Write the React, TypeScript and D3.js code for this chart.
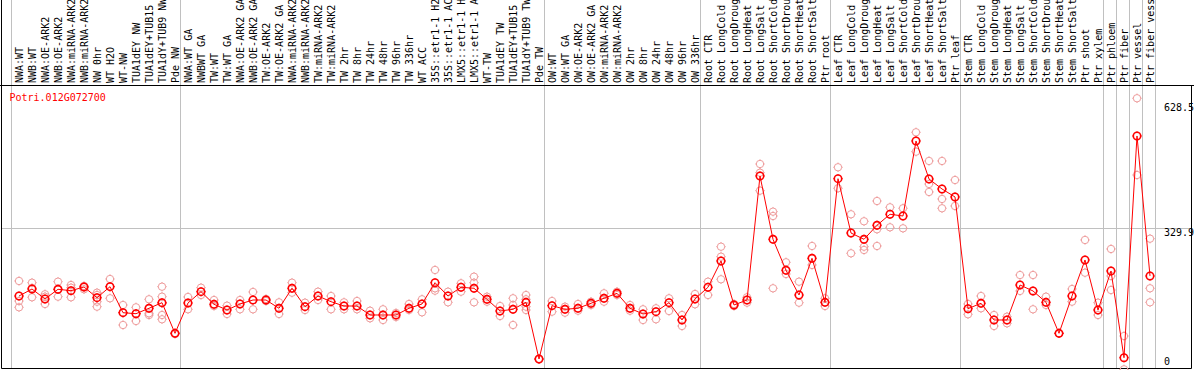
import React from "react";
import * as d3 from "d3";

const title = "Potri.012G072700";

const categories = [
  "NWA:WT", "NWB:WT", "NWA:OE-ARK2", "NWB:OE-ARK2", "NWA:miRNA-ARK2", "NWB:miRNA-ARK2", "NW 0hr", "WT H2O", "WT-NW", "TUA1dEY NW", "TUA1dEY+TUB15 NW", "TUA1dY+TUB9 NW", "Pde NW",
  "NWA:WT GA", "NWBWT GA", "TW:WT", "TW:WT GA", "NWA:OE-ARK2 GA", "NWB:OE-ARK2 GA", "TW:OE-ARK2", "TW:OE-ARK2 GA", "NWA:miRNA-ARK2", "NWB:miRNA-ARK2", "TW:miRNA-ARK2", "TW:miRNA-ARK2", "TW 2hr", "TW 8hr", "TW 24hr", "TW 48hr", "TW 96hr", "TW 336hr", "WT ACC", "35S::etr1-1 H2O", "35S::etr1-1 ACC", "LMX5::etr1-1 H2O", "LMX5::etr1-1 ACC", "WT-TW", "TUA1dEY TW", "TUA1dEY+TUB15 TW", "TUA1dY+TUB9 TW", "Pde TW",
  "OW:WT", "OW:WT GA", "OW:OE-ARK2", "OW:OE-ARK2 GA", "OW:miRNA-ARK2", "OW:miRNA-ARK2", "OW 2hr", "OW 8hr", "OW 24hr", "OW 48hr", "OW 96hr", "OW 336hr",
  "Root CTR", "Root LongCold", "Root LongDrought", "Root LongHeat", "Root LongSalt", "Root ShortCold", "Root ShortDrought", "Root ShortHeat", "Root ShortSalt", "Ptr root",
  "Leaf CTR", "Leaf LongCold", "Leaf LongDrought", "Leaf LongHeat", "Leaf LongSalt", "Leaf ShortCold", "Leaf ShortDrought", "Leaf ShortHeat", "Leaf ShortSalt", "Ptr leaf",
  "Stem CTR", "Stem LongCold", "Stem LongDrought", "Stem LongHeat", "Stem LongSalt", "Stem ShortCold", "Stem ShortDrought", "Stem ShortHeat", "Stem ShortSalt", "Ptr shoot", "Ptr xylem",
  "Ptr phloem", "Ptr fiber", "Ptr vessel", "Ptr fiber vessel",
];

const groupSizes = [13, 28, 12, 10, 10, 11, 1, 1, 1, 1];

const means = [
  169.0, 185.7, 161.9, 185.0, 181.7, 190.5, 165.0, 191.2, 129.3, 126.9, 139.8, 153.1, 80.2,
  152.4, 179.3, 149.3, 135.7, 150.0, 159.5, 159.5, 139.8, 187.4, 143.6, 169.0, 155.5, 145.2, 145.2, 123.8, 123.8, 123.8, 139.8, 150.0, 200.7, 169.0, 189.8, 187.4, 161.2, 133.3, 137.4, 154.0, 19.0,
  146.0, 137.4, 139.8, 151.7, 163.6, 175.5, 139.8, 126.2, 131.7, 153.1, 111.9, 161.9,
  189.8, 252.4, 147.6, 159.5, 454.8, 304.0, 230.2, 171.4, 258.8, 154.0,
  448.3, 319.0, 304.0, 337.4, 363.6, 359.5, 538.1, 447.6, 423.8, 404.8,
  138.8, 151.7, 111.9, 111.9, 195.2, 181.0, 154.0, 80.2, 169.0, 254.8, 135.7,
  228.6, 22.1, 550.0, 216.7,
];

const replicates = [
  [204.8, 157.1, 142.1], [200.7, 188.1, 166.0], [173.1, 167.4, 150.0], [203.1, 185.0, 167.4], [195.2, 188.8, 166.0], [192.9, 190.5, 185.0], [176.9, 171.4, 155.5, 143.6], [209.5, 191.2, 163.6], [147.6, 129.3, 100.0], [142.1, 126.9, 109.5], [161.2, 127.9, 123.8], [191.2, 167.4, 151.7, 123.8, 113.6], [81.0, 78.6],
  [166.7, 137.4], [188.8, 171.4], [159.5, 145.2], [146.0, 126.2], [159.5, 137.4], [178.6, 137.4], [161.9, 157.1], [154.0, 126.2], [200.7, 176.9], [153.1, 135.7], [179.3, 159.5], [169.0, 137.4], [154.0, 137.4], [157.1, 137.4], [134.0, 116.0], [137.4, 111.9], [128.6, 119.0], [150.0, 135.7], [161.2, 130.2], [231.0, 187.4, 181.7], [179.3, 154.0], [199.3, 179.3], [215.0, 200.7, 154.0], [167.4, 155.5], [145.2, 121.4], [163.6, 147.6, 100.0], [171.4, 161.2, 143.6, 135.7], [19.0, 19.0],
  [157.1, 131.7], [143.6, 129.3], [150.0, 134.0], [155.5, 147.6], [175.5, 155.5], [179.3, 171.4], [147.6, 134.0], [137.4, 111.9], [139.8, 113.6], [163.6, 133.3], [123.8, 97.6], [173.8, 149.3],
  [203.1, 171.4], [286.4, 262.6, 208.8], [150.0, 145.2], [166.0, 153.1], [483.3, 462.6, 419.8], [369.8, 359.5, 187.4], [249.3, 221.4], [203.1, 153.1], [288.1, 242.9], [163.6, 145.2],
  [475.5, 425.5], [363.6, 270.7], [346.9, 286.4, 278.6], [395.2, 327.9, 288.1], [380.2, 332.6], [377.9, 330.2], [558.8, 512.6], [490.5, 435.7, 416.7], [490.5, 400.0, 377.9], [445.2, 383.3],
  [150.0, 125.5], [169.0, 139.8], [123.8, 97.6], [119.8, 104.0], [219.0, 181.0], [219.0, 137.4], [167.4, 147.6], [80.2, 80.2], [185.7, 155.5], [302.4, 224.5], [153.1, 123.8],
  [281.0, 216.7, 183.3], [73.8, -5.5], [639.8, 457.1], [305.5, 187.4, 154.0],
];

const yTicks = [0, 329.9, 628.5];
const yTickLabels = ["0", "329.9", "628.5"];
const gridTicks = [329.9];

const FONT = "'DejaVu Sans Mono', 'Liberation Mono', monospace";

function Marker({ cx, cy, color, sw }: { cx: number; cy: number; color: string; sw: number }) {
  const r = 3.7;
  const t = 1;
  return (
    <g stroke={color} fill="none">
      <circle cx={cx} cy={cy} r={r} strokeWidth={sw} />
      <line x1={cx} y1={cy - r} x2={cx} y2={cy - r - t} strokeWidth={1} />
      <line x1={cx} y1={cy + r} x2={cx} y2={cy + r + t} strokeWidth={1} />
      <line x1={cx - r} y1={cy} x2={cx - r - t} y2={cy} strokeWidth={1} />
      <line x1={cx + r} y1={cy} x2={cx + r + t} y2={cy} strokeWidth={1} />
    </g>
  );
}

export default function App() {
  const W = 1194;
  const H = 370;
  const plotTop = 85.5;
  const plotBottom = 368.5;
  const plotLeft = 1.5;
  const plotRight = 1191.5;

  const x = d3.scaleLinear().domain([0, categories.length - 1]).range([19, 1150]);
  const y = d3.scaleLinear().domain([0, 628.5]).range([367, 103]);

  const bounds = Array.from(d3.cumsum([0, ...groupSizes]));
  const sepX = (k: number) => Math.floor(x(k - 0.5)) - 0.5;

  const linePath = d3
    .line<number>()
    .x((_, i) => x(i))
    .y((d) => y(d))(means) as string;

  return (
    <svg
      width={W}
      height={H}
      style={{ position: "absolute", left: 0, top: 0, background: "#fff" }}
      fontFamily={FONT}
      fontSize={10}
    >
      <rect x={0} y={0} width={W} height={H} fill="#fff" />
      {bounds.map((k, i) => (
        <line key={"s" + i} x1={sepX(k)} x2={sepX(k)} y1={0} y2={plotBottom} stroke="#c0c0c0" strokeWidth={1} />
      ))}
      {gridTicks.map((t, i) => (
        <line key={"g" + i} x1={plotLeft} x2={plotRight} y1={Math.round(y(t)) + 0.5} y2={Math.round(y(t)) + 0.5} stroke="#c0c0c0" strokeWidth={1} />
      ))}
      <line x1={0} x2={W} y1={plotTop} y2={plotTop} stroke="#000" strokeWidth={1} />
      <line x1={plotLeft} x2={plotLeft} y1={0} y2={plotBottom} stroke="#000" strokeWidth={1} />
      <line x1={plotRight} x2={plotRight} y1={plotTop} y2={plotBottom} stroke="#000" strokeWidth={1} />
      <line x1={plotLeft} x2={plotRight} y1={plotBottom} y2={plotBottom} stroke="#000" strokeWidth={1} />
      {categories.map((c, i) => (
        <text key={"c" + i} transform={`translate(${x(i) + 4},83) rotate(-90)`} fill="#000">
          {c}
        </text>
      ))}
      <text x={9.5} y={100.5} fill="#ff0000">
        {title}
      </text>
      {yTicks.map((t, i) => (
        <text key={"t" + i} x={1164} y={Math.min(y(t) + 7.5, 365)} fill="#000">
          {yTickLabels[i]}
        </text>
      ))}
      {replicates.map((reps, i) =>
        reps.map((v, j) => <Marker key={`r${i}-${j}`} cx={x(i)} cy={y(v)} color="#ee9c9c" sw={1} />)
      )}
      <path d={linePath} fill="none" stroke="#ff0000" strokeWidth={1} />
      {means.map((v, i) => (
        <Marker key={"m" + i} cx={x(i)} cy={y(v)} color="#ff0000" sw={1.6} />
      ))}
    </svg>
  );
}
